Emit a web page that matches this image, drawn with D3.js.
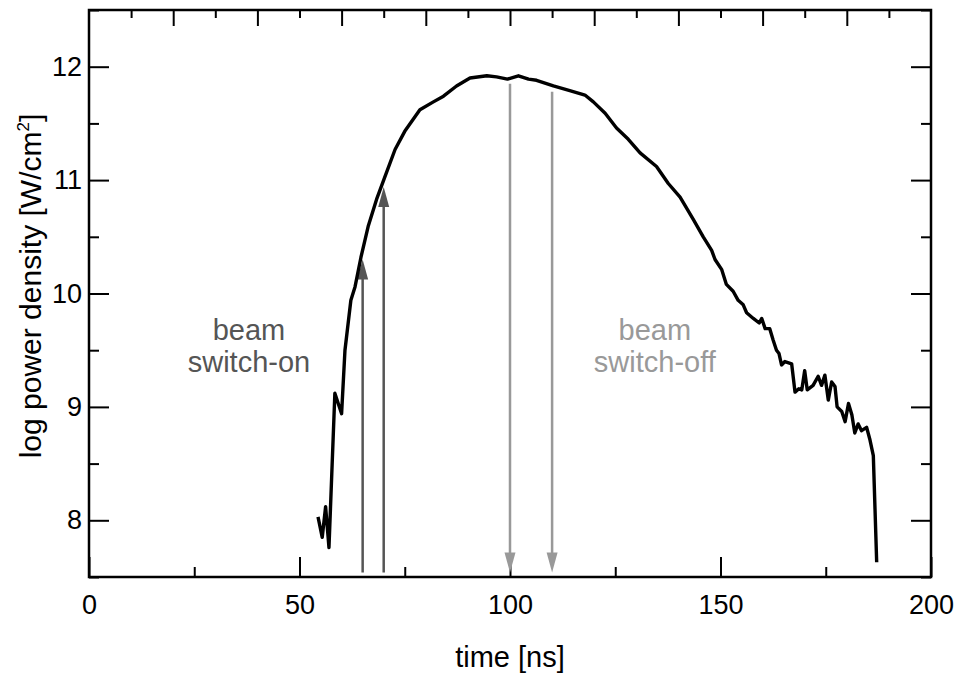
<!DOCTYPE html>
<html>
<head>
<meta charset="utf-8">
<script src="https://cdn.jsdelivr.net/npm/d3@7"></script>
<style>
  body { margin: 0; background: #fff; }
  text { font-family: "Liberation Sans", Arial, sans-serif; }
</style>
</head>
<body>
<script>
// curve: time [ns] and log power density
var times = [54.4, 55.4, 56.2, 57.0, 58.4, 60.0, 60.8, 62.2, 63.2, 64.6, 66.3, 68.3, 70.3, 72.7, 75.0,
  78.6, 81.8, 84.2, 87.3, 90.5, 94.5, 96.8, 99.4, 102.0, 104.4, 106.3, 110.3, 114.2, 117.8, 119.8,
  122.6, 125.3, 128.1, 130.9, 134.8, 137.6, 140.4, 143.6, 145.9, 147.9, 148.7, 150.3, 151.4, 153.0,
  154.2, 155.4, 156.2, 157.8, 159.2, 159.8, 160.6, 161.7, 162.5, 163.3, 163.9, 164.5, 165.3, 166.9,
  167.7, 168.6, 169.3, 170.0, 170.6, 172.0, 173.2, 174.0, 174.8, 175.6, 176.4, 177.2, 177.7, 178.8,
  179.6, 180.4, 181.2, 181.9, 182.7, 183.5, 184.7, 185.5, 186.3, 187.1];
var power = [8.03, 7.85, 8.12, 7.76, 9.12, 8.94, 9.50, 9.94, 10.06, 10.32, 10.59, 10.83, 11.03, 11.27, 11.43,
  11.62, 11.69, 11.74, 11.83, 11.90, 11.92, 11.91, 11.89, 11.92, 11.89, 11.88, 11.83, 11.79, 11.75, 11.69,
  11.59, 11.46, 11.36, 11.24, 11.12, 10.97, 10.85, 10.65, 10.50, 10.38, 10.30, 10.21, 10.08, 10.02,
  9.94, 9.90, 9.83, 9.78, 9.74, 9.78, 9.69, 9.69, 9.59, 9.50, 9.47, 9.37, 9.40, 9.38,
  9.13, 9.16, 9.15, 9.32, 9.15, 9.19, 9.27, 9.19, 9.28, 9.06, 9.22, 9.18, 9.00, 8.96,
  8.87, 9.03, 8.93, 8.77, 8.85, 8.79, 8.82, 8.71, 8.57, 7.63];

// arrows: switch-on (pointing up) and switch-off (pointing down)
var onTimes = [65, 70], onTips = [10.30, 10.94];
var offTimes = [100, 110], offTops = [11.85, 11.78];
var arrowBase = 7.54;

var xTicks = [0, 50, 100, 150, 200];
var yTicks = [8, 9, 10, 11, 12];

var W = 959, H = 677;
var margin = {top: 10, right: 28, bottom: 100, left: 89},
    w = W - margin.left - margin.right,
    h = H - margin.top - margin.bottom;

var svg = d3.select('body').append('svg')
    .attr('width', W)
    .attr('height', H);

var g = svg.append('g')
    .attr('transform', 'translate(' + margin.left + ',' + margin.top + ')');

var xScale = d3.scaleLinear().domain([0, 200]).range([0, w]);
var yScale = d3.scaleLinear().domain([7.5, 12.5]).range([h, 0]);

// axes, ticks inward
function noDomain(sel) { sel.select('.domain').remove(); }
function styleTicks(sel) {
  sel.attr('font-size', null).attr('font-family', null);
  sel.selectAll('line').attr('stroke', '#000').attr('stroke-width', 2);
  sel.selectAll('text').style('font-size', '27px').attr('fill', '#000');
}

// bottom
g.append('g').attr('transform', 'translate(0,' + h + ')')
  .call(d3.axisBottom(xScale).tickValues(d3.range(25, 200, 50)).tickSize(-10).tickFormat(''))
  .call(noDomain).call(styleTicks);
g.append('g').attr('transform', 'translate(0,' + h + ')')
  .call(d3.axisBottom(xScale).tickValues(xTicks).tickSizeInner(-20).tickSizeOuter(0).tickPadding(18))
  .call(noDomain).call(styleTicks);

// top
g.append('g')
  .call(d3.axisTop(xScale).tickValues(d3.range(10, 200, 20)).tickSize(-8).tickFormat(''))
  .call(noDomain).call(styleTicks);
g.append('g')
  .call(d3.axisTop(xScale).tickValues(d3.range(20, 200, 20)).tickSize(-16).tickFormat(''))
  .call(noDomain).call(styleTicks);

// left
g.append('g')
  .call(d3.axisLeft(yScale).tickValues(d3.range(7.5, 12.6, 1)).tickSize(-10).tickFormat(''))
  .call(noDomain).call(styleTicks);
g.append('g')
  .call(d3.axisLeft(yScale).tickValues(yTicks).tickFormat(d3.format('d'))
    .tickSizeInner(-20).tickSizeOuter(0))
  .call(noDomain).call(styleTicks)
  .selectAll('text').attr('x', -7);

// right
g.append('g').attr('transform', 'translate(' + w + ',0)')
  .call(d3.axisRight(yScale).tickValues(d3.range(7.5, 12.6, 1)).tickSize(-10).tickFormat(''))
  .call(noDomain).call(styleTicks);
g.append('g').attr('transform', 'translate(' + w + ',0)')
  .call(d3.axisRight(yScale).tickValues(yTicks).tickSize(-20).tickFormat(''))
  .call(noDomain).call(styleTicks);

// frame
g.append('rect')
  .attr('width', w).attr('height', h)
  .attr('fill', 'none').attr('stroke', '#000').attr('stroke-width', 2.5);

// arrows
function arrow(t, v0, v1, color) {
  var x = xScale(t), y0 = yScale(v0), y1 = yScale(v1);
  var dir = y1 < y0 ? 1 : -1; // 1: pointing up
  g.append('line')
    .attr('x1', x).attr('x2', x)
    .attr('y1', y0).attr('y2', y1 + dir * 12)
    .attr('stroke', color).attr('stroke-width', 2.5);
  g.append('path')
    .attr('d', 'M' + x + ',' + y1 + 'L' + (x - 5.5) + ',' + (y1 + dir * 20) +
               'L' + (x + 5.5) + ',' + (y1 + dir * 20) + 'Z')
    .attr('fill', color);
}
onTimes.forEach(function(t, i) { arrow(t, arrowBase, onTips[i], '#555'); });
offTimes.forEach(function(t, i) { arrow(t, offTops[i], arrowBase, '#999'); });

// curve
var line = d3.line()
  .x(function(d, i) { return xScale(times[i]); })
  .y(function(d) { return yScale(d); });

g.append('path')
  .datum(power)
  .attr('d', line)
  .attr('fill', 'none')
  .attr('stroke', '#000')
  .attr('stroke-width', 3.4)
  .attr('stroke-linejoin', 'round');

// annotations
function label(t, v, lines, color) {
  var txt = g.append('text')
    .attr('x', xScale(t)).attr('y', yScale(v))
    .attr('text-anchor', 'middle')
    .attr('font-size', 29)
    .attr('fill', color);
  lines.forEach(function(s, i) {
    txt.append('tspan').attr('x', xScale(t)).attr('dy', i ? 32 : 0).text(s);
  });
}
label(38.0, 9.59, ['beam', 'switch-on'], '#555');
label(134.4, 9.59, ['beam', 'switch-off'], '#999');

// axis titles
svg.append('text')
  .attr('x', margin.left + w / 2).attr('y', 667)
  .attr('text-anchor', 'middle').attr('font-size', 29)
  .text('time [ns]');

var yl = svg.append('text')
  .attr('transform', 'translate(41,286) rotate(-90)')
  .attr('text-anchor', 'middle').attr('font-size', 30);
yl.append('tspan').text('log power density [W/cm');
yl.append('tspan').attr('font-size', 17).attr('dy', -12).text('2');
yl.append('tspan').attr('dy', 12).text(']');
</script>
</body>
</html>
